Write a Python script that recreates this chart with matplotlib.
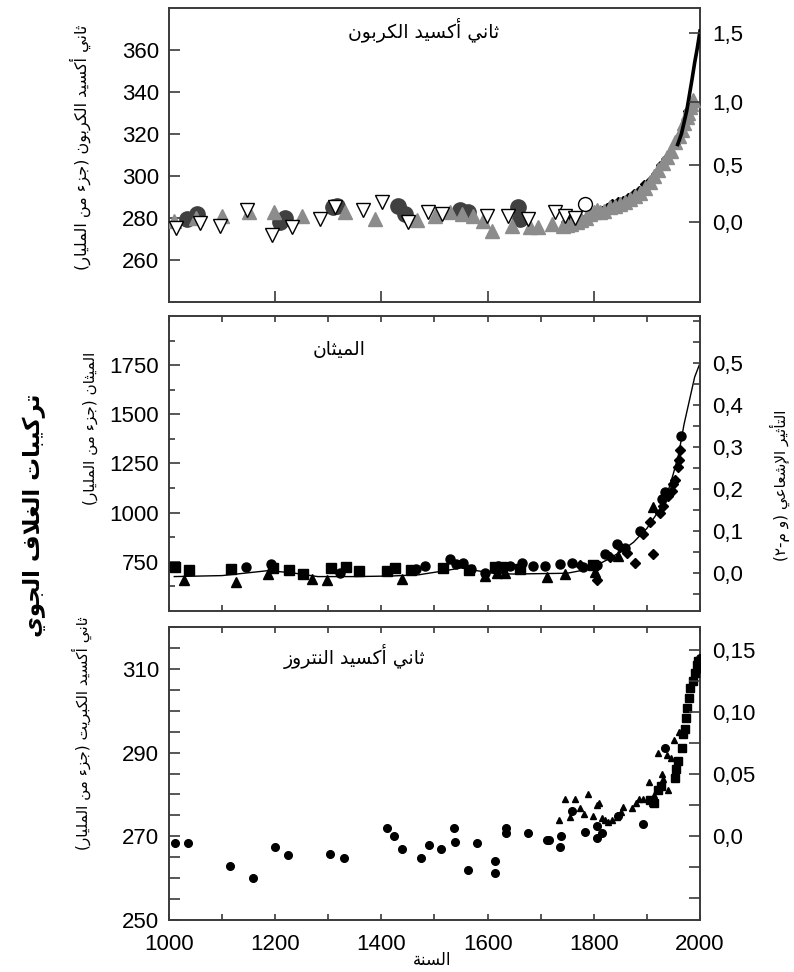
import numpy as np
import matplotlib
matplotlib.use("Agg")
import matplotlib.pyplot as plt
from matplotlib.ticker import MultipleLocator, FixedLocator

# ---------------- Arabic shaping helper (presentation forms + RTL order) ----------------
_DUAL = {'\u0626': 0xFE89, '\u0628': 0xFE8F, '\u062A': 0xFE95, '\u062B': 0xFE99, '\u062C': 0xFE9D,
         '\u062D': 0xFEA1, '\u062E': 0xFEA5, '\u0633': 0xFEB1, '\u0634': 0xFEB5, '\u0635': 0xFEB9,
         '\u0636': 0xFEBD, '\u0637': 0xFEC1, '\u0638': 0xFEC5, '\u0639': 0xFEC9, '\u063A': 0xFECD,
         '\u0641': 0xFED1, '\u0642': 0xFED5, '\u0643': 0xFED9, '\u0644': 0xFEDD, '\u0645': 0xFEE1,
         '\u0646': 0xFEE5, '\u0647': 0xFEE9, '\u064A': 0xFEF1}
_RIGHT = {'\u0622': 0xFE81, '\u0623': 0xFE83, '\u0624': 0xFE85, '\u0625': 0xFE87, '\u0627': 0xFE8D,
          '\u0629': 0xFE93, '\u062F': 0xFEA9, '\u0630': 0xFEAB, '\u0631': 0xFEAD, '\u0632': 0xFEAF,
          '\u0648': 0xFEED, '\u0649': 0xFEEF}
_LAMALEF = {'\u0622': 0xFEF5, '\u0623': 0xFEF7, '\u0625': 0xFEF9, '\u0627': 0xFEFB}
_MIRROR = {'(': ')', ')': '('}


def ar(text):
    items = []
    i = 0
    while i < len(text):
        c = text[i]
        if c == '\u0644' and i + 1 < len(text) and text[i + 1] in _LAMALEF:
            items.append(('LA', text[i + 1]))
            i += 2
        else:
            items.append(('C', c))
            i += 1

    def jt(it):
        if it[0] == 'LA':
            return 'R'
        if it[1] == '\u0640':
            return 'D'
        if it[1] in _DUAL:
            return 'D'
        if it[1] in _RIGHT:
            return 'R'
        return 'U'

    out = []
    for k, it in enumerate(items):
        t = jt(it)
        pj = k > 0 and jt(items[k - 1]) == 'D' and t in 'DR'
        nj = k + 1 < len(items) and t == 'D' and jt(items[k + 1]) in 'DR'
        if it[0] == 'LA':
            base = _LAMALEF[it[1]]
            out.append(chr(base + (1 if pj else 0)))
            continue
        c = it[1]
        if c == '\u0640':
            out.append(c)
        elif c in _DUAL:
            b = _DUAL[c]
            if pj and nj:
                out.append(chr(b + 3))
            elif pj:
                out.append(chr(b + 1))
            elif nj:
                out.append(chr(b + 2))
            else:
                out.append(chr(b))
        elif c in _RIGHT:
            b = _RIGHT[c]
            out.append(chr(b + 1) if pj else chr(b))
        elif c == '\u0621':
            out.append('\uFE80')
        else:
            out.append(c)
    return ''.join(_MIRROR.get(ch, ch) for ch in reversed(out))


# ---------------- data ----------------
# CO2 (ppm)
co2_circle_years = [1034, 1053, 1209, 1218, 1309, 1316, 1431, 1444, 1548, 1563, 1657, 1661]
co2_circle_vals = [279.4, 281.8, 278, 280, 285, 285.6, 285.6, 282, 284, 282.7, 285, 279.4]
co2_open_circle_years = [1783]
co2_open_circle_vals = [286.5]
co2_tri_years = [1009, 1051, 1100, 1151, 1198, 1250, 1331, 1388, 1467, 1501, 1529, 1552, 1573, 1591,
                 1608, 1646, 1680, 1695, 1721, 1742, 1750, 1758, 1768, 1775, 1785, 1793, 1800, 1806,
                 1812, 1820, 1830, 1840, 1849, 1858, 1868, 1877, 1887, 1896, 1906, 1913, 1921, 1930,
                 1938, 1945, 1953, 1960, 1966, 1970, 1975, 1978, 1981, 1984, 1986]
co2_tri_vals = [278.5, 280, 281, 283, 283, 281, 283, 279.6, 279, 281, 283, 282, 281, 278.5,
                274, 276, 275.6, 275.6, 277, 276, 276.5, 277, 278, 279, 280, 282, 283, 284,
                282.7, 283.5, 285, 285.5, 286.5, 287.5, 289, 290.5, 292, 294.5, 297, 300, 303, 306,
                309, 312, 316, 319, 322, 325, 328, 330, 333, 334.5, 336]
co2_opentri_years = [1013, 1058, 1096, 1147, 1194, 1232, 1285, 1313, 1365, 1401, 1450, 1488, 1514,
                     1599, 1638, 1676, 1727, 1746, 1765]
co2_opentri_vals = [275, 277.5, 276, 284, 272, 275.6, 279.4, 285, 284, 287.5, 278, 283, 282,
                    281, 281, 279.4, 282.7, 281, 280]
co2_dia_years = [1745, 1755, 1765, 1775, 1785, 1795, 1805, 1815, 1825, 1835, 1845, 1855, 1865, 1875,
                 1885, 1895, 1905, 1915, 1925, 1935, 1945, 1955, 1962, 1968, 1972, 1976]
co2_dia_vals = [278, 279, 278, 280, 279, 281, 283, 284, 285, 287, 288, 288.5, 290, 292,
                293.5, 296, 298, 301, 305, 308, 311, 315, 319, 323, 326, 331]
co2_line_years = [1958, 1965, 1970, 1975, 1980, 1985, 1990, 1995, 2000]
co2_line_vals = [315, 320, 325.5, 331, 338.5, 346, 354, 361, 369]
co2_forcing_ticks = [0.0, 0.5, 1.0, 1.5]
co2_forcing_labels = ['0,0', '0,5', '1,0', '1,5']

# CH4 (ppb)
ch4_sq_years = [1011, 1038, 1117, 1196, 1226, 1253, 1305, 1333, 1358, 1411, 1425, 1456, 1516, 1565,
                1614, 1627, 1661, 1798]
ch4_sq_vals = [724, 709, 714, 720, 709, 689, 719, 724, 704, 704, 719, 709, 719, 709,
               725, 725, 715, 735]
ch4_circ_years = [1145, 1192, 1322, 1465, 1482, 1529, 1540, 1553, 1569, 1595, 1620, 1642, 1665, 1686,
                  1708, 1736, 1759, 1780, 1806, 1821, 1844, 1859, 1887, 1928, 1934, 1964]
ch4_circ_vals = [724, 740, 694, 714, 730, 765, 740, 745, 714, 694, 730, 730, 745, 730,
                 730, 740, 745, 725, 735, 790, 840, 820, 905, 1070, 1105, 1390]
ch4_tri_years = [1028, 1126, 1186, 1270, 1297, 1439, 1595, 1617, 1633, 1712, 1746, 1802, 1846, 1912]
ch4_tri_vals = [658, 648, 689, 663, 658, 663, 679, 695, 695, 675, 690, 700, 780, 1030]
ch4_dia_years = [1774, 1806, 1830, 1849, 1862, 1878, 1893, 1906, 1912, 1925, 1931, 1940, 1947, 1950,
                 1953, 1959, 1961, 1963]
ch4_dia_vals = [735, 660, 775, 825, 795, 745, 890, 955, 790, 1000, 1035, 1085, 1110, 1145,
                1165, 1230, 1270, 1320]
ch4_line_years = [1010, 1100, 1186, 1230, 1280, 1350, 1420, 1470, 1520, 1550, 1580, 1615, 1650, 1700,
                  1750, 1775, 1800, 1825, 1850, 1875, 1900, 1925, 1940, 1950, 1960, 1970, 1980, 1990,
                  2000]
ch4_line_vals = [675, 680, 705, 695, 675, 675, 678, 684, 705, 719, 705, 690, 688, 690,
                 692, 705, 725, 760, 800, 850, 920, 1020, 1110, 1200, 1300, 1450, 1570, 1690,
                 1760]
ch4_forcing_ticks = [0.0, 0.1, 0.2, 0.3, 0.4, 0.5]
ch4_forcing_labels = ['0,0', '0,1', '0,2', '0,3', '0,4', '0,5']

# N2O (ppb)
n2o_circ_years = [1011, 1036, 1115, 1158, 1200, 1224, 1303, 1330, 1410, 1424, 1438, 1474, 1490, 1512,
                  1537, 1538, 1563, 1580, 1614, 1614, 1635, 1635, 1676, 1711, 1715, 1738, 1736,
                  1759, 1783, 1806, 1806, 1815, 1846, 1893, 1934, 1996, 1998, 2000]
n2o_circ_vals = [268.4, 268.4, 263, 260, 267.4, 265.5, 265.7, 264.8, 272, 270, 267, 264.8, 268, 267,
                 272, 268.6, 262, 268.3, 264, 261.2, 272, 270.7, 270.7, 269, 269, 270, 267.4,
                 276, 271, 272.4, 269.5, 270.7, 274.8, 273, 291, 310, 311.5, 312.5]
n2o_tri_years = [1734, 1746, 1756, 1765, 1774, 1781, 1789, 1798, 1806, 1810, 1815, 1821, 1827, 1834,
                 1843, 1851, 1855, 1872, 1879, 1885, 1893, 1904, 1909, 1913, 1921, 1929, 1931, 1938,
                 1945, 1940, 1951, 1960]
n2o_tri_vals = [274, 278.8, 274.5, 278.8, 276.7, 275.3, 280, 274.8, 277.4, 278, 274.3, 273.8, 273.3, 274,
                274.5, 275.7, 276.9, 276.7, 277.9, 279, 279, 282.9, 278, 279.8, 290, 284.8, 283.6, 289.5,
                288.6, 281, 292.9, 295]
n2o_sq_years = [1906, 1913, 1921, 1926, 1953, 1954, 1959, 1966, 1968, 1971, 1974, 1976, 1979, 1981,
                1986, 1991, 1995, 1997]
n2o_sq_vals = [278.6, 278, 281, 282, 284, 286, 288, 291, 294.5, 295.7, 298.3, 300.7, 303, 305.5,
               307, 309, 311, 312]
n2o_forcing_ticks = [0.0, 0.05, 0.10, 0.15]
n2o_forcing_labels = ['0,0', '0,05', '0,10', '0,15']

year_ticks = [1000, 1200, 1400, 1600, 1800, 2000]

# text
title_co2 = 'ثاني أكسيد الكربون'
title_ch4 = 'الميثان'
title_n2o = 'ثاني أكسيد النتروز'
ylab_co2 = 'ثاني أكسيد الكربون (جزء من المليار)'
ylab_ch4 = 'الميثان (جزء من المليار)'
ylab_n2o = 'ثاني أكسيد الكبريت (جزء من المليار)'
big_label = 'تركيبات الغلاف الجوي'
right_label = 'التأثير الإشعاعي (و م-٢)'
x_label = 'السنة'

# ---------------- plotting ----------------
plt.rcParams['font.family'] = ['Liberation Sans', 'DejaVu Sans']
NUMFS = 16
SPC = '#3a3a3a'

fig = plt.figure(figsize=(7.94, 9.72), dpi=100)
W = 0.6688
L = 0.2128
ax1 = fig.add_axes([L, 0.6893, W, 0.3025])
ax2 = fig.add_axes([L, 0.3714, W, 0.3035])
ax3 = fig.add_axes([L, 0.0535, W, 0.3014])

for ax in (ax1, ax2, ax3):
    ax.set_xlim(1000, 2000)
    for s in ax.spines.values():
        s.set_color(SPC)
        s.set_linewidth(1.4)
    ax.tick_params(labelsize=NUMFS, colors='black')
    ax.tick_params(which='both', color=SPC, width=1.2)

# ---- Panel 1: CO2
ax1.set_ylim(240, 380)
ax1.plot(co2_dia_years, co2_dia_vals, linestyle='none', marker='D', ms=4.5, color='black', zorder=3)
ax1.plot(co2_line_years, co2_line_vals, color='black', lw=2.6, zorder=6)
ax1.plot(co2_circle_years, co2_circle_vals, linestyle='none', marker='o', ms=11, color='#404040', zorder=3)
ax1.plot(co2_tri_years, co2_tri_vals, linestyle='none', marker='^', ms=10, color='#8c8c8c',
         markeredgecolor='#8c8c8c', zorder=4)
ax1.plot(co2_opentri_years, co2_opentri_vals, linestyle='none', marker='v', ms=10, markerfacecolor='white',
         markeredgecolor='black', markeredgewidth=1.0, zorder=5)
ax1.plot(co2_open_circle_years, co2_open_circle_vals, linestyle='none', marker='o', ms=10,
         markerfacecolor='white', markeredgecolor='black', markeredgewidth=1.0, zorder=5)
ax1.set_xticks([1200, 1400, 1600, 1800])
ax1.tick_params(axis='x', direction='in', length=8, labelbottom=False)
ax1.set_yticks([260, 280, 300, 320, 340, 360])
ax1.tick_params(axis='y', direction='in', length=8, pad=7)
t1 = ax1.twinx()
t1.set_ylim(240, 380)
t1.set_yticks([278 * np.exp(f / 5.35) for f in co2_forcing_ticks])
t1.set_yticklabels(co2_forcing_labels)
t1.tick_params(axis='y', direction='in', length=8, pad=9, labelsize=NUMFS, color=SPC, width=1.2)
for s in t1.spines.values():
    s.set_visible(False)
ax1.text(0.48, 0.925, ar(title_co2), transform=ax1.transAxes, ha='center', va='center',
         fontsize=13.5, family='DejaVu Sans')

# ---- Panel 2: CH4
ax2.set_ylim(500, 2000)
ax2.plot(ch4_line_years, ch4_line_vals, color='black', lw=1.0, zorder=2)
ax2.plot(ch4_sq_years, ch4_sq_vals, linestyle='none', marker='s', ms=6.5, color='black', zorder=3)
ax2.plot(ch4_circ_years, ch4_circ_vals, linestyle='none', marker='o', ms=6.5, color='black', zorder=3)
ax2.plot(ch4_tri_years, ch4_tri_vals, linestyle='none', marker='^', ms=6.5, color='black', zorder=3)
ax2.plot(ch4_dia_years, ch4_dia_vals, linestyle='none', marker='D', ms=5, color='black', zorder=3)
ax2.xaxis.set_major_locator(MultipleLocator(100))
ax2.tick_params(axis='x', direction='in', length=4, top=True, labelbottom=False)
ax2.set_yticks([750, 1000, 1250, 1500, 1750])
ax2.yaxis.set_minor_locator(FixedLocator([625, 875, 1125, 1375, 1625, 1875]))
ax2.tick_params(axis='y', which='major', direction='in', length=8, pad=7)
ax2.tick_params(axis='y', which='minor', direction='in', length=4)
t2 = ax2.twinx()
t2.set_ylim((500 - 694) / 2132, (2000 - 694) / 2132)
t2.set_yticks(ch4_forcing_ticks)
t2.set_yticklabels(ch4_forcing_labels)
t2.yaxis.set_minor_locator(MultipleLocator(0.05))
t2.tick_params(axis='y', which='major', direction='in', length=5, pad=9, labelsize=NUMFS, color=SPC, width=1.2)
t2.tick_params(axis='y', which='minor', direction='in', length=5, color=SPC, width=1.2)
for s in t2.spines.values():
    s.set_visible(False)
ax2.text(0.32, 0.885, ar(title_ch4), transform=ax2.transAxes, ha='center', va='center',
         fontsize=13.5, family='DejaVu Sans')

# ---- Panel 3: N2O
ax3.set_ylim(250, 320)
ax3.plot(n2o_circ_years, n2o_circ_vals, linestyle='none', marker='o', ms=5.5, color='black', zorder=3)
ax3.plot(n2o_tri_years, n2o_tri_vals, linestyle='none', marker='^', ms=5, color='black', zorder=3)
ax3.plot(n2o_sq_years, n2o_sq_vals, linestyle='none', marker='s', ms=6, color='black', zorder=3)
ax3.set_xticks(year_ticks)
ax3.set_xticklabels([str(y) for y in year_ticks])
ax3.xaxis.set_minor_locator(MultipleLocator(100))
ax3.tick_params(axis='x', which='both', direction='in', length=4, top=True, pad=10)
ax3.set_yticks([250, 270, 290, 310])
ax3.yaxis.set_minor_locator(MultipleLocator(5))
ax3.tick_params(axis='y', which='both', direction='in', length=8, pad=7)
t3 = ax3.twinx()
t3.set_ylim((250 - 270) / 297, (320 - 270) / 297)
t3.set_yticks(n2o_forcing_ticks)
t3.set_yticklabels(n2o_forcing_labels)
t3.yaxis.set_minor_locator(MultipleLocator(0.025))
t3.tick_params(axis='y', which='both', direction='in', length=8, pad=9, labelsize=NUMFS, color=SPC, width=1.2)
for s in t3.spines.values():
    s.set_visible(False)
ax3.text(0.35, 0.9, ar(title_n2o), transform=ax3.transAxes, ha='center', va='center',
         fontsize=13.5, family='DejaVu Sans')

# ---- labels
fig.text(80 / 794, 1 - 147 / 972, ar(ylab_co2), rotation=90, ha='center', va='center',
         fontsize=11.5, family='DejaVu Sans')
fig.text(90 / 794, 1 - 428 / 972, ar(ylab_ch4), rotation=90, ha='center', va='center',
         fontsize=11, family='DejaVu Sans')
fig.text(82 / 794, 1 - 733 / 972, ar(ylab_n2o), rotation=90, ha='center', va='center',
         fontsize=11, family='DejaVu Sans')
fig.text(34 / 794, 1 - 515 / 972, ar(big_label), rotation=90, ha='center', va='center',
         fontsize=16.5, fontweight='bold', family='DejaVu Sans')
fig.text(780 / 794, 1 - 485 / 972, ar(right_label), rotation=90, ha='center', va='center',
         fontsize=11, family='DejaVu Sans')
fig.text(432 / 794, 1 - 960 / 972, ar(x_label), ha='center', va='center',
         fontsize=12, family='DejaVu Sans')

fig.savefig('out.png', dpi=100)
